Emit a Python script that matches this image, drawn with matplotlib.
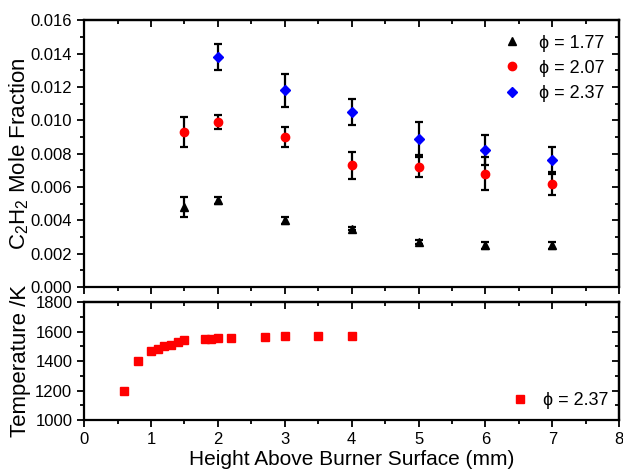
import matplotlib
matplotlib.use("Agg")
import matplotlib.pyplot as plt
from matplotlib.ticker import MultipleLocator

plt.rcParams['font.family'] = ['Liberation Sans', 'DejaVu Sans']
plt.rcParams['mathtext.default'] = 'regular'

# C2H2 mole fraction data
h = [1.5, 2, 3, 4, 5, 6, 7]
x177 = [0.0048, 0.0052, 0.0040, 0.0035, 0.0027, 0.0025, 0.0025]
e177 = [0.0006, 0.0002, 0.0002, 0.0001, 0.0001, 0.0002, 0.0002]
x207 = [0.0093, 0.0099, 0.0090, 0.0073, 0.0072, 0.0068, 0.0062]
e207 = [0.0009, 0.0004, 0.0006, 0.0008, 0.0006, 0.0010, 0.0007]
h237 = [2, 3, 4, 5, 6, 7]
x237 = [0.0138, 0.0118, 0.0105, 0.0089, 0.0082, 0.0076]
e237 = [0.0008, 0.0010, 0.0008, 0.0010, 0.0009, 0.0008]

# temperature profile
ht = [0.6, 0.8, 1.0, 1.1, 1.2, 1.3, 1.4, 1.5, 1.8, 1.9, 2.0, 2.2, 2.7, 3.0, 3.5, 4.0]
temp = [1200, 1400, 1472, 1486, 1502, 1513, 1532, 1541, 1550, 1550, 1559, 1559, 1564, 1571, 1573, 1573]

fig = plt.figure(figsize=(6.23, 4.7), dpi=100)
ax1 = fig.add_axes([0.135, 0.389, 0.859, 0.568])
ax2 = fig.add_axes([0.135, 0.106, 0.859, 0.251])

eb = dict(ecolor='black', elinewidth=1.6, capsize=3, capthick=1.6, linestyle='none')
ax1.errorbar(h, x177, yerr=e177, marker='^', color='black', ms=6, label='ϕ = 1.77', **eb)
ax1.errorbar(h, x207, yerr=e207, marker='o', color='red', ms=6, label='ϕ = 2.07', **eb)
ax1.errorbar(h237, x237, yerr=e237, marker='D', color='blue', ms=5, label='ϕ = 2.37', **eb)

ax1.set_xlim(0, 8)
ax1.set_ylim(0, 0.016)
ax1.yaxis.set_major_locator(MultipleLocator(0.002))
ax1.yaxis.set_minor_locator(MultipleLocator(0.001))
ax1.xaxis.set_major_locator(MultipleLocator(1))
ax1.xaxis.set_minor_locator(MultipleLocator(0.5))
ax1.set_yticks(ax1.get_yticks())
ax1.set_yticklabels(['%.3f' % v for v in ax1.get_yticks()])
ax1.set_ylim(0, 0.016)
ax1.tick_params(labelbottom=False)
ax1.set_ylabel('C$_2$H$_2$ Mole Fraction', fontsize=16)

handles, labels = ax1.get_legend_handles_labels()
handles = [hd[0] for hd in handles]
ax1.legend(handles, labels, loc='upper right', frameon=False, fontsize=13,
           handletextpad=1.0, labelspacing=0.45, borderaxespad=0.5,
           handlelength=1.0, borderpad=0.3)

ax2.plot(ht, temp, 's', color='red', ms=6, label='ϕ = 2.37')
ax2.set_xlim(0, 8)
ax2.set_ylim(1000, 1800)
ax2.yaxis.set_major_locator(MultipleLocator(200))
ax2.yaxis.set_minor_locator(MultipleLocator(100))
ax2.xaxis.set_major_locator(MultipleLocator(1))
ax2.xaxis.set_minor_locator(MultipleLocator(0.5))
ax2.set_ylabel('Temperature /K', fontsize=16)
ax2.set_xlabel('Height Above Burner Surface (mm)', fontsize=15, labelpad=2)
ax2.legend(loc='lower right', frameon=False, fontsize=13, handletextpad=0.8,
           borderaxespad=0.2, handlelength=1.0, borderpad=0.4)

for ax in (ax1, ax2):
    for s in ax.spines.values():
        s.set_linewidth(1.6)
    ax.tick_params(which='both', direction='out', width=1.3, labelsize=12,
                   top=False, right=False)
    ax.tick_params(which='major', length=5)
    ax.tick_params(which='minor', length=3)
    sec_t = ax.secondary_xaxis('top')
    sec_t.xaxis.set_major_locator(MultipleLocator(1))
    sec_t.xaxis.set_minor_locator(MultipleLocator(0.5))
    sec_t.tick_params(which='both', direction='in', width=1.3, labeltop=False)
    sec_t.tick_params(which='major', length=5)
    sec_t.tick_params(which='minor', length=3)
    sec_t.spines['top'].set_linewidth(1.6)
    sec_r = ax.secondary_yaxis('right')
    sec_r.yaxis.set_major_locator(ax.yaxis.get_major_locator())
    sec_r.yaxis.set_minor_locator(ax.yaxis.get_minor_locator())
    sec_r.tick_params(which='both', direction='in', width=1.3, labelright=False)
    sec_r.tick_params(which='major', length=5)
    sec_r.tick_params(which='minor', length=3)
    sec_r.spines['right'].set_linewidth(1.6)

ax1.yaxis.set_label_coords(-0.1, 0.5)
ax2.yaxis.set_label_coords(-0.1, 0.5)

fig.savefig('out.png', dpi=100)
